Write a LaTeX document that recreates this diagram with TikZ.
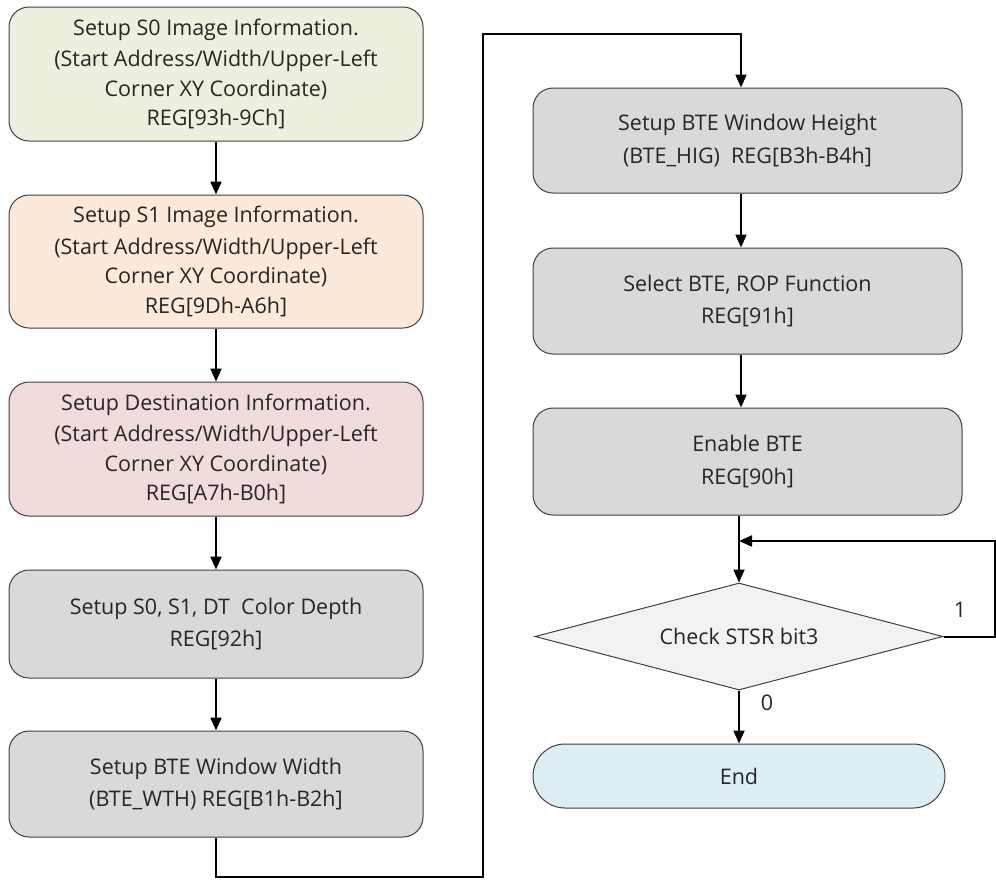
\documentclass[tikz,border=0pt]{standalone}
\usepackage{fontspec}
\setmainfont{Open Sans}
\usetikzlibrary{shapes.geometric,arrows.meta}
\definecolor{cgreen}{HTML}{EBF1DE}
\definecolor{corange}{HTML}{FDE9D9}
\definecolor{cpink}{HTML}{F2DCDB}
\definecolor{cgray}{HTML}{D9D9D9}
\definecolor{cdia}{HTML}{F2F2F2}
\definecolor{cend}{HTML}{DAEEF3}
\definecolor{ctext}{HTML}{262626}
\tikzset{
  box/.style={draw=black!75, line width=1pt, rounded corners=20pt, align=center,
    text=ctext, font=\fontsize{21.5}{29.5}\selectfont, inner sep=0pt},
  leftbox/.style={box, minimum width=414pt},
  rightbox/.style={box, minimum width=429pt},
  conn/.style={line width=2pt, -{Triangle[length=13pt,width=11pt]}},
  lbl/.style={text=ctext, font=\fontsize{21.5}{24}\selectfont, inner sep=0pt}
}
\begin{document}
\begin{tikzpicture}[x=1pt,y=-1pt]
\useasboundingbox (0,0) rectangle (996,879);
% left column
\node[leftbox, fill=cgreen, minimum height=134pt] (b1) at (216,74)
  {Setup S0 Image Information.\\[2pt](Start Address/Width/Upper-Left\\Corner XY Coordinate)\\REG[93h-9Ch]};
\node[leftbox, fill=corange, minimum height=133pt] (b2) at (216,261.5)
  {Setup S1 Image Information.\\[2pt](Start Address/Width/Upper-Left\\Corner XY Coordinate)\\REG[9Dh-A6h]};
\node[leftbox, fill=cpink, minimum height=134pt] (b3) at (216,449)
  {Setup Destination Information.\\[2pt](Start Address/Width/Upper-Left\\Corner XY Coordinate)\\REG[A7h-B0h]};
\node[leftbox, fill=cgray, minimum height=108pt] (b4) at (216,624)
  {Setup S0, S1, DT~~Color Depth\\[3pt]REG[92h]};
\node[leftbox, fill=cgray, minimum height=106pt] (b5) at (216,784)
  {Setup BTE Window Width\\[3pt](BTE\_WTH) REG[B1h-B2h]};
% right column
\node[rightbox, fill=cgray, minimum height=105pt] (b6) at (747.5,140.5)
  {Setup BTE Window Height\\[3pt](BTE\_HIG)~~REG[B3h-B4h]};
\node[rightbox, fill=cgray, minimum height=106pt] (b7) at (747.5,301)
  {Select BTE, ROP Function\\[3pt]REG[91h]};
\node[rightbox, fill=cgray, minimum height=107pt] (b8) at (747.5,461.5)
  {Enable BTE\\[3pt]REG[90h]};
\node[diamond, draw=black!75, line width=1pt, fill=cdia, aspect=3.8, inner sep=0pt,
  minimum width=408pt, minimum height=107pt, text=ctext,
  font=\fontsize{21.5}{24}\selectfont] (d) at (739,636.5) {Check STSR bit3};
\node[box, fill=cend, rounded corners=32pt, minimum width=412pt, minimum height=64pt] (e) at (739,776) {End};
% connectors
\coordinate (c1) at (216,877);
\coordinate (c2) at (483,877);
\coordinate (c3) at (483,34);
\coordinate (c4) at (741,34);
\coordinate (m) at (739,541);
\coordinate (r1) at (995,636.5);
\coordinate (r2) at (995,541);
\draw[conn] (b1.south) -- (b2.north);
\draw[conn] (b2.south) -- (b3.north);
\draw[conn] (b3.south) -- (b4.north);
\draw[conn] (b4.south) -- (b5.north);
\draw[conn] (b5.south) -- (c1) -- (c2) -- (c3) -- (c4) -- (c4 |- b6.north);
\draw[conn] (c4 |- b6.south) -- (c4 |- b7.north);
\draw[conn] (c4 |- b7.south) -- (c4 |- b8.north);
\draw[conn] (m |- b8.south) -- (d.north);
\draw[conn] (d.east) -- (r1) -- (r2) -- (m);
\draw[conn] (d.south) -- (e.north);
\node[lbl] (l1) at (960,610) {1};
\node[lbl] (l0) at (767,703) {0};
\end{tikzpicture}
\end{document}
